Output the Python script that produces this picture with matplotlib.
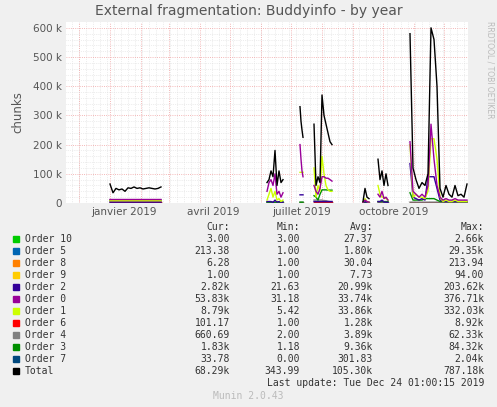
import numpy as np
import matplotlib
matplotlib.use("Agg")
import matplotlib.pyplot as plt

# x = days since 2018-11-18
seg_x = [list(range(44, 96, 3)), list(range(201, 218, 2)), [234, 235, 236, 237],
         list(range(248, 267, 2)), list(range(297, 304, 2)), list(range(312, 323, 2)),
         list(range(344, 402, 3))]
total = [[65,35,50,45,48,40,52,50,55,50,52,48,50,52,50,48,50,55],
         [70,80,110,90,180,60,110,70,80],[330,280,250,225],
         [270,60,90,70,370,300,270,240,210,200],[5,50,20,15],[150,80,110,60,100,60],
         [580,120,80,50,70,60,100,600,560,400,50,20,60,30,20,60,25,30,20,65]]
order0 = [[12]*18,[40,70,80,60,100,30,40,20,35],[200,150,110,90],
          [60,40,30,50,90,90,85,85,80,75],[2,10,5,3],[30,20,40,15,20,10],
          [210,40,30,20,30,20,60,270,150,60,20,10,15,10,10,15,10,10,10,10]]
order1 = [[8]*18,[10,30,50,20,40,10,15,5,10],[105]*4,
          [120,20,60,40,160,100,60,45,40,40],[2,15,5,3],[60,30,20,20,15,10],
          [200,20,30,20,20,15,40,220,220,150,20,5,10,5,5,10,5,5,5,5]]
order2 = [[3]*18,[5,5,5,2,10,3,5,2,3],[28]*4,[5]*10,[1,5,2,2],[5,5,10,3,3,2],
          [135,20,15,10,15,10,90,90,90,50,10,5,5,5,5,5,5,5,5,5]]
order3 = [[10]*18,[3]*9,[3]*4,[25,20,10,30,45,45,45,44,44,44],[2]*4,[5]*6,
          [35,10,10,10,10,15,15,15,15,10,5,5,5,5,5,5,5,5,5,5]]
order4 = [[4]*18,[2]*9,[2]*4,[10,10,10,10,10,8,8,6,5,5],[1]*4,[3]*6,[3]*20]
order6 = [[5]*18,[1]*9,[1]*4,[3]*10,[0.5]*4,[1]*6,[1]*20]

names = ["Order 10","Order 5","Order 8","Order 9","Order 2","Order 0","Order 1",
         "Order 6","Order 4","Order 3","Order 7","Total"]
colors = ["#00CC00","#0066B3","#FF8000","#FFCC00","#330099","#990099","#CCFF00",
          "#FF0000","#808080","#008F00","#00487D","#000000"]
cur = ["3.00","213.38","6.28","1.00","2.82k","53.83k","8.79k","101.17","660.69","1.83k","33.78","68.29k"]
mins = ["3.00","1.00","1.00","1.00","21.63","31.18","5.42","1.00","2.00","1.18","0.00","343.99"]
avgs = ["27.37","1.80k","30.04","7.73","20.99k","33.74k","33.86k","1.28k","3.89k","9.36k","301.83","105.30k"]
maxs = ["2.66k","29.35k","213.94","94.00","203.62k","376.71k","332.03k","8.92k","62.33k","84.32k","2.04k","787.18k"]
month_labels = ["janvier 2019", "avril 2019", "juillet 2019", "octobre 2019"]
month_label_days = [58, 147, 236, 328]
month_starts = [13, 44, 75, 103, 134, 164, 195, 225, 256, 287, 317, 348, 378]

def join(segs):
    xs, ys = [], []
    for sx, sy in zip(seg_x, segs):
        xs += list(sx) + [np.nan]; ys += list(sy) + [np.nan]
    return np.array(xs, float), np.array(ys, float) * 1000

small = [[1]*len(s) for s in seg_x]
series = {"Order 10": small, "Order 5": small, "Order 8": small, "Order 9": small,
          "Order 2": order2, "Order 0": order0, "Order 1": order1, "Order 6": order6,
          "Order 4": order4, "Order 3": order3, "Order 7": small, "Total": total}

fig = plt.figure(figsize=(4.97, 4.07), dpi=100, facecolor="#F0F0F0")
ax = fig.add_axes([66/497, 1-203/407, (468-66)/497, (203-22)/407])
ax.set_facecolor("white")
ax.set_xlim(0, 402); ax.set_ylim(0, 620000)
for d in range(6, 402, 7):
    ax.axvline(d, color="#DDDDDD", lw=0.5, ls=":", zorder=0)
for d in month_starts:
    ax.axvline(d, color="#F0A0A0", lw=0.6, ls=":", zorder=0)
for v in range(20000, 620000, 20000):
    ax.axhline(v, color="#DDDDDD" if v % 100000 else "#F0A0A0", lw=0.5 if v % 100000 else 0.6, ls=":", zorder=0)
order_draw = ["Order 10","Order 5","Order 8","Order 9","Order 4","Order 6","Order 7",
              "Order 3","Order 2","Order 1","Order 0","Total"]
for n in order_draw:
    x, y = join(series[n])
    ax.plot(x, y, color=colors[names.index(n)], lw=1.0)
ax.set_yticks(range(0, 600001, 100000))
ax.set_yticklabels(["0"] + [f"{v} k" for v in range(100, 601, 100)])
ax.set_xticks(month_label_days); ax.set_xticklabels(month_labels)
ax.tick_params(length=0, labelsize=7.5, colors="#555555", pad=3)
for s in ax.spines.values():
    s.set_visible(False)
ax.set_ylabel("chunks", fontsize=8.5, color="#555555", labelpad=6)
fig.text(0.5, 1-18/407, "External fragmentation: Buddyinfo - by year", ha="center",
         va="bottom", fontsize=10, color="#555555")
fig.text(490/497, 1-70/407, "RRDTOOL / TOBI OETIKER", rotation=270, ha="center",
         va="center", fontsize=5.5, color="#BBBBBB")

mono = dict(family="DejaVu Sans Mono", fontsize=7, color="#333333")
def tx(px, py, s, ha="right", **kw):
    fig.text(px/497, 1-py/407, s, ha=ha, va="center", **{**mono, **kw})
for px, h in zip([230, 300, 373, 484], ["Cur:", "Min:", "Avg:", "Max:"]):
    tx(px, 227, h)
for i, n in enumerate(names):
    y = 239 + 12*i
    fig.patches.append(plt.Rectangle((13/497, 1-(y+3)/407), 6/497, 6/407,
                                     transform=fig.transFigure, color=colors[i]))
    tx(25, y, n, ha="left")
    tx(230, y, cur[i]); tx(300, y, mins[i]); tx(373, y, avgs[i]); tx(484, y, maxs[i])
tx(484, 383, "Last update: Tue Dec 24 01:00:15 2019")
tx(248, 396, "Munin 2.0.43", ha="center", color="#BBBBBB")
fig.savefig("out.png", dpi=100, facecolor=fig.get_facecolor())
